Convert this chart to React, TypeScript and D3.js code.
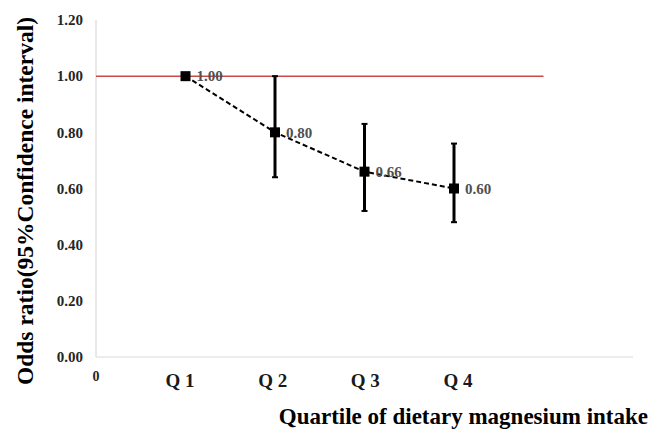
import React, { useEffect, useRef } from "react";
import * as d3 from "d3";

// chart values
const quartiles = ["Q 1", "Q 2", "Q 3", "Q 4"];
const oddsRatio = [1.0, 0.8, 0.66, 0.6];
const ciLower = [1.0, 0.64, 0.52, 0.48];
const ciUpper = [1.0, 1.0, 0.83, 0.76];
const pointLabels = ["1.00", "0.80", "0.66", "0.60"];
const yTicks = [0, 0.2, 0.4, 0.6, 0.8, 1.0, 1.2];
const refValue = 1.0;

const App = () => {
  const svgRef = useRef<SVGSVGElement>(null);

  useEffect(() => {
    const width = 649;
    const height = 430;
    const serif = "'Liberation Serif', 'Times New Roman', serif";

    d3.select(svgRef.current).selectAll("*").remove();
    const svg = d3.select(svgRef.current)
      .attr("width", width)
      .attr("height", height);

    const x = d3.scaleLinear().domain([0, 6]).range([96, 633]);
    const y = d3.scaleLinear().domain([0, 1.2]).range([357, 20]);
    // category labels sit a bit wider than the points
    const xLabel = d3.scalePoint<string>().domain(quartiles).range([180, 458]);

    const data = quartiles.map((q, i) => ({
      q,
      pos: i + 1,
      v: oddsRatio[i],
      lo: ciLower[i],
      hi: ciUpper[i],
      label: pointLabels[i]
    }));

    // axes lines
    svg.append("line")
      .attr("x1", x(0)).attr("x2", x(0))
      .attr("y1", y(1.2)).attr("y2", y(0))
      .attr("stroke", "#d9d9d9").attr("stroke-width", 1.2);
    svg.append("line")
      .attr("x1", x(0)).attr("x2", x(6))
      .attr("y1", y(0)).attr("y2", y(0))
      .attr("stroke", "#d9d9d9").attr("stroke-width", 1.2);

    // y tick labels
    svg.append("g").selectAll("text")
      .data(yTicks)
      .enter()
      .append("text")
      .attr("x", 83)
      .attr("y", d => y(d))
      .attr("dy", "0.35em")
      .attr("text-anchor", "end")
      .style("font-family", serif)
      .style("font-weight", "bold")
      .style("font-size", "15px")
      .style("fill", "#262626")
      .text(d => d.toFixed(2));

    // x labels
    svg.append("text")
      .attr("x", x(0))
      .attr("y", 381)
      .attr("text-anchor", "middle")
      .style("font-family", serif)
      .style("font-weight", "bold")
      .style("font-size", "14px")
      .style("fill", "#262626")
      .text("0");

    svg.append("g").selectAll("text")
      .data(data)
      .enter()
      .append("text")
      .attr("x", d => xLabel(d.q) as number)
      .attr("y", 387)
      .attr("text-anchor", "middle")
      .style("font-family", serif)
      .style("font-weight", "bold")
      .style("font-size", "19px")
      .style("fill", "#1a1a1a")
      .text(d => d.q);

    // reference line at OR = 1
    svg.append("line")
      .attr("x1", x(0)).attr("x2", x(5))
      .attr("y1", y(refValue)).attr("y2", y(refValue))
      .attr("stroke", "#c9484a").attr("stroke-width", 1.5);

    // error bars
    const bars = svg.append("g").selectAll("g")
      .data(data.filter(d => d.hi > d.lo))
      .enter()
      .append("g");
    bars.append("line")
      .attr("x1", d => x(d.pos)).attr("x2", d => x(d.pos))
      .attr("y1", d => y(d.lo)).attr("y2", d => y(d.hi))
      .attr("stroke", "#000").attr("stroke-width", 3);
    [(d: any) => d.lo, (d: any) => d.hi].forEach(acc => {
      bars.append("line")
        .attr("x1", d => x(d.pos) - 3).attr("x2", d => x(d.pos) + 3)
        .attr("y1", d => y(acc(d))).attr("y2", d => y(acc(d)))
        .attr("stroke", "#000").attr("stroke-width", 2);
    });

    // dashed trend line
    const line = d3.line<any>()
      .x(d => x(d.pos))
      .y(d => y(d.v));
    svg.append("path")
      .datum(data)
      .attr("d", line)
      .attr("fill", "none")
      .attr("stroke", "#000")
      .attr("stroke-width", 2)
      .attr("stroke-dasharray", "5,3");

    // markers
    svg.append("g").selectAll("rect")
      .data(data)
      .enter()
      .append("rect")
      .attr("x", d => x(d.pos) - 5)
      .attr("y", d => y(d.v) - 5)
      .attr("width", 10)
      .attr("height", 10)
      .attr("fill", "#000");

    // value labels
    svg.append("g").selectAll("text")
      .data(data)
      .enter()
      .append("text")
      .attr("x", d => x(d.pos) + 11)
      .attr("y", d => y(d.v))
      .attr("dy", "0.35em")
      .style("font-family", serif)
      .style("font-weight", "bold")
      .style("font-size", "15px")
      .style("fill", "#505050")
      .text(d => d.label);

    // axis titles
    svg.append("text")
      .attr("x", 648)
      .attr("y", 424)
      .attr("text-anchor", "end")
      .style("font-family", serif)
      .style("font-weight", "bold")
      .style("font-size", "23px")
      .style("fill", "#000")
      .text("Quartile of dietary magnesium intake");

    svg.append("text")
      .attr("transform", "translate(33, 201) rotate(-90)")
      .attr("text-anchor", "middle")
      .style("font-family", serif)
      .style("font-weight", "bold")
      .style("font-size", "23.5px")
      .style("fill", "#000")
      .text("Odds ratio(95%Confidence interval)");
  }, []);

  return (
    <div style={{ position: "absolute", left: 0, top: 0, background: "#fff" }}>
      <svg ref={svgRef} style={{ display: "block" }}></svg>
    </div>
  );
};

export default App;
